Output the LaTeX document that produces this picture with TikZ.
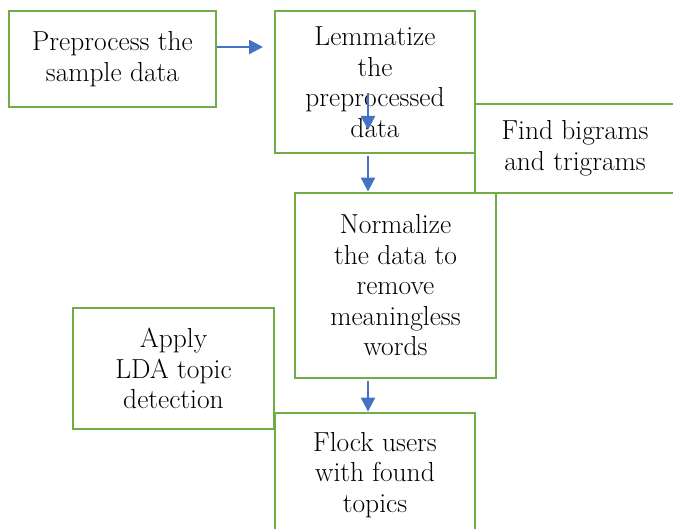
\documentclass[tikz,border=0pt]{standalone}
\usetikzlibrary{arrows.meta}
\definecolor{boxgreen}{RGB}{112,173,71}
\definecolor{arrblue}{RGB}{68,114,196}
\begin{document}
\begin{tikzpicture}[x=1pt,y=1pt,
  box/.style={draw=boxgreen, line width=2.8pt, align=center,
    font=\fontsize{27.5}{30.5}\selectfont, inner sep=0pt},
  arr/.style={draw=arrblue, line width=2.4pt, -{Triangle[length=14pt,width=14pt]}}]
\useasboundingbox (0,0) rectangle (673,529);
\clip (0,0) rectangle (673,529);
\node[box, minimum width=207, minimum height=96] (b1) at (112.5,470) {Preprocess the\\sample data};
\node[box, minimum width=200, minimum height=142] (b2) at (375,447) {Lemmatize\\the\\preprocessed\\data};
\node[box, minimum width=200, minimum height=89] (b3) at (575,380.5) {Find bigrams\\and trigrams};
\node[box, minimum width=201, minimum height=185] (b4) at (395.5,243.5) {Normalize\\the data to\\remove\\meaningless\\words};
\node[box, minimum width=201, minimum height=121] (b5) at (173.5,160.5) {Apply\\LDA topic\\detection};
\node[box, minimum width=200, minimum height=124] (b6) at (375,54) {Flock users\\with found\\topics};
\coordinate (a1e) at (263,482);
\coordinate (i1) at (368,436);
\coordinate (i2) at (368,399);
\draw[arr] (b1.east |- a1e) -- (a1e);
\draw[arr] (i1) -- (i2);
\draw[arr, shorten <=2pt] (b2.south -| i1) -- (b4.north -| i1);
\draw[arr, shorten <=2pt] (b4.south -| i1) -- (b6.north -| i1);
\end{tikzpicture}
\end{document}
